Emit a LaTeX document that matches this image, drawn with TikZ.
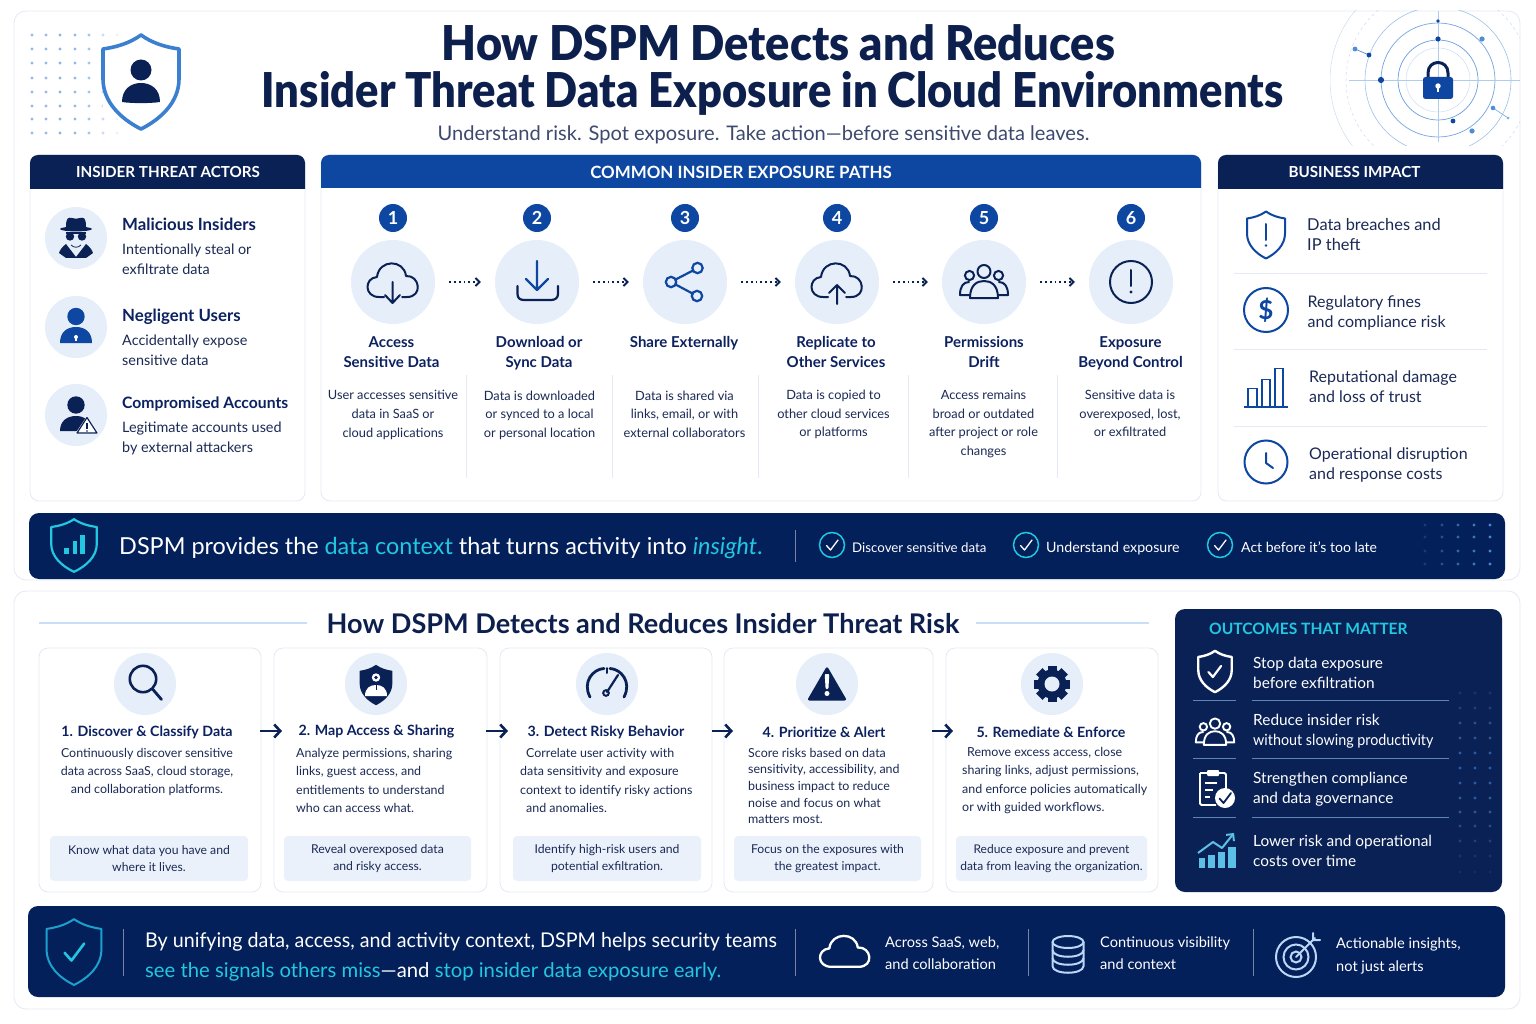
\documentclass[tikz,border=0pt]{standalone}
\usepackage{fontspec}
\setmainfont{Lato}
\newfontfamily\heavyfont{Lato Black}
\usetikzlibrary{calc,arrows.meta}

\definecolor{navy}{HTML}{0A2156}
\definecolor{bannerblue}{HTML}{04205A}
\definecolor{midblue}{HTML}{0D47A1}
\definecolor{softblue}{HTML}{4F8DD8}
\definecolor{logoblue}{HTML}{3A7FD0}
\definecolor{ink}{HTML}{1B2A55}
\definecolor{titleink}{HTML}{0C1F4D}
\definecolor{headink}{HTML}{0C2160}
\definecolor{pale}{HTML}{E6EEF9}
\definecolor{tipfill}{HTML}{EAF1FB}
\definecolor{linegray}{HTML}{E4E9F3}
\definecolor{teal}{HTML}{22C7E0}
\definecolor{iceblue}{HTML}{BCD6F5}
\definecolor{chartblue}{HTML}{5CC0E6}

\tikzset{
  panel/.style={draw=linegray, fill=white, rounded corners=12pt, line width=.8pt, inner sep=0pt},
  card/.style={draw=linegray, fill=white, rounded corners=9pt, line width=.8pt, inner sep=0pt},
  tipbox/.style={fill=tipfill, rounded corners=4pt, inner sep=0pt, text=ink, align=center, font=\fontsize{12.2}{17}\selectfont},
  bluecirc/.style={circle, fill=pale, inner sep=0pt, minimum size=84pt},
  stepcirc/.style={circle, fill=pale, inner sep=0pt, minimum size=62pt},
  badge/.style={circle, fill=midblue, text=white, inner sep=0pt, minimum size=28pt, font=\fontsize{18}{18}\selectfont\bfseries},
  headtext/.style={text=white, inner sep=0pt, font=\fontsize{15.2}{16}\selectfont\bfseries},
  actorhead/.style={anchor=west, inner sep=0pt, text=headink, font=\fontsize{16.8}{18}\selectfont\bfseries},
  actortext/.style={anchor=west, inner sep=0pt, text=ink, align=left, font=\fontsize{14.4}{20}\selectfont},
  pathhead/.style={inner sep=0pt, text=headink, align=center, font=\fontsize{15}{20}\selectfont\bfseries},
  pathtext/.style={inner sep=0pt, text=ink, align=center, font=\fontsize{12.8}{18.6}\selectfont},
  impacttext/.style={anchor=west, inner sep=0pt, text=ink, align=left, font=\fontsize{16}{20}\selectfont},
  stephead/.style={inner sep=0pt, text=headink, font=\fontsize{14.2}{16}\selectfont\bfseries},
  steptext/.style={inner sep=0pt, text=ink, font=\fontsize{12.45}{18.1}\selectfont},
  outtext/.style={anchor=west, inner sep=0pt, text=white, align=left, font=\fontsize{15.4}{20}\selectfont},
  chktext/.style={anchor=west, inner sep=0pt, text=white, font=\fontsize{14.2}{16}\selectfont},
  sidetext/.style={anchor=west, inner sep=0pt, text=white, align=left, font=\fontsize{14.6}{22.5}\selectfont},
  dotflow/.style={navy, line width=1.4pt, dash pattern=on 1.8pt off 3pt, -{Straight Barb[length=4pt,width=8pt,line width=1.9pt]}, shorten >=14pt, shorten <=14pt},
  steparrow/.style={navy, line width=2.6pt, -{Straight Barb[length=6pt,width=13pt,line width=2.6pt]}},
  pics/shieldline/.style={code={
    \draw[line join=round] (0,-47) .. controls (11,-39) and (24,-35) .. (38,-33) -- (38,-3) .. controls (38,20) and (20,37) .. (0,47) .. controls (-20,37) and (-38,20) .. (-38,-3) -- (-38,-33) .. controls (-24,-35) and (-11,-39) .. (0,-47) -- cycle;
  }},
  pics/shieldfill/.style={code={
    \fill (0,-47) .. controls (11,-39) and (24,-35) .. (38,-33) -- (38,-3) .. controls (38,20) and (20,37) .. (0,47) .. controls (-20,37) and (-38,20) .. (-38,-3) -- (-38,-33) .. controls (-24,-35) and (-11,-39) .. (0,-47) -- cycle;
  }},
  pics/cloudopen/.style={code={
    \draw[line cap=round, line join=round] (-9,15) -- (-14,15) .. controls (-29,15) and (-29,-4) .. (-16,-5) .. controls (-14,-23) and (11,-23) .. (13,-6) .. controls (27,-7) and (30,15) .. (14,15) -- (9,15);
  }},
  pics/cloudshut/.style={code={
    \draw[line cap=round, line join=round] (-14,15) .. controls (-29,15) and (-29,-4) .. (-16,-5) .. controls (-14,-23) and (11,-23) .. (13,-6) .. controls (27,-7) and (30,15) .. (14,15) -- cycle;
  }},
  pics/crowd/.style={code={
    \draw[line cap=round, line join=round] (0,-10.5) circle (6.5);
    \draw (-14.5,-6.5) circle (4.6);
    \draw (14.5,-6.5) circle (4.6);
    \draw[line cap=round, line join=round] (-14,16) .. controls (-14,3) and (-7,-1) .. (0,-1) .. controls (7,-1) and (14,3) .. (14,16) -- cycle;
    \draw[line cap=round, line join=round] (-15,0) .. controls (-21,0) and (-24,5) .. (-24,13) -- (-15,13);
    \draw[line cap=round, line join=round] (15,0) .. controls (21,0) and (24,5) .. (24,13) -- (15,13);
  }},
  pics/tickmark/.style={code={
    \draw[line cap=round, line join=round] (-5.5,0.5) -- (-1.5,5) -- (6,-5);
  }},
}

\begin{document}
\begin{tikzpicture}[x=1pt,y=-1pt]
\useasboundingbox (0,0) rectangle (1536,1024);
\fill[white] (0,0) rectangle (1536,1024);

% outer panels
\node[panel, minimum width=1506pt, minimum height=569pt] (toppanel) at (767,295.5) {};
\node[panel, minimum width=1506pt, minimum height=418pt] (lowpanel) at (767,800) {};

% corner dots
\foreach \yy in {35,49,63,78,92,106,119,133} {
  \foreach \xx/\op in {32/.6,46/.6,60/.65,75/.6,89/.5,103/.3,117/.1} {
    \fill[softblue, opacity=\op] (\xx,\yy) circle (1.7);
  }
}
\fill[white] (103,49) rectangle (125,110);
\pic[color=logoblue, line width=3.6pt] at (141,82) {shieldline};
\fill[navy] (141,70) circle (10.5);
\fill[navy] (122,102) .. controls (122,89) and (131,83) .. (141,83) .. controls (151,83) and (160,89) .. (160,102) .. controls (150,103.5) and (132,103.5) .. (122,102) -- cycle;

% radar
\begin{scope}
\clip (1330,11) rectangle (1520,146);
\draw[softblue!30, line width=.5pt] (1438,80) circle (108);
\draw[softblue!30, line width=.5pt, dashed] (1438,80) circle (92);
\draw[softblue!55, line width=.6pt] (1438,80) circle (73);
\draw[softblue!80, line width=.7pt] (1438,80) circle (57);
\draw[softblue!85, line width=.7pt] (1438,80) circle (40);
\draw[softblue!30, line width=.5pt] (1438,80) circle (32);
\draw[softblue!45, line width=.6pt] (1349,80) -- (1520,80);
\draw[softblue!45, line width=.6pt] (1438,11) -- (1438,142);
\draw[softblue, line width=.7pt] (1355,49) -- (1369,55);
\draw[softblue!70, line width=.7pt] (1493,108) -- (1508,118);
\end{scope}
\fill[midblue] (1438,21) circle (1.8);
\fill[midblue] (1438,39) circle (2.6);
\fill[softblue] (1482,39) circle (2.6);
\fill[midblue] (1381,80) circle (3.1);
\fill[midblue] (1453,121) circle (2.4);
\fill[softblue] (1472,131) circle (2.6);
\fill[softblue] (1493,108) circle (2.3);
\fill[softblue!70] (1508,118) circle (1.5);
\fill[midblue] (1369,55) circle (2.4);
\fill[softblue] (1355,49) circle (2.4);
\draw[navy, line width=3pt] (1428,78) -- (1428,73) .. controls (1428,59) and (1448,59) .. (1448,73) -- (1448,78);
\fill[midblue, rounded corners=2.5pt] (1423,77) rectangle (1453,99);
\fill[white] (1438,86) circle (2.7);
\fill[white] (1437,86) rectangle (1439,92.5);

% title
\node[inner sep=0pt, text=titleink, font=\fontsize{48}{48}\selectfont\heavyfont] (titleone) at (778.5,43) {\scalebox{.939}[1]{How DSPM Detects and Reduces}};
\node[inner sep=0pt, text=titleink, font=\fontsize{48}{48}\selectfont\heavyfont] (titletwo) at (772.5,93.5) {\scalebox{.905}[1]{Insider Threat Data Exposure in Cloud Environments}};
\node[inner sep=0pt, text=ink!85, font=\fontsize{20.1}{21}\selectfont] (subtitle) at (763.5,134.5) {Understand risk. Spot exposure. Take action—before sensitive data leaves.};

% three columns
\node[card, minimum width=275pt, minimum height=346pt] (actorcard) at (167.5,328) {};
\node[card, minimum width=880pt, minimum height=346pt] (pathcard) at (761,328) {};
\node[card, minimum width=285pt, minimum height=346pt] (impactcard) at (1360.5,328) {};
\fill[navy] (30,189) [rounded corners=8pt] -- (30,155) -- (305,155) [sharp corners] -- (305,189) -- cycle;
\fill[midblue] (321,188) [rounded corners=8pt] -- (321,155) -- (1201,155) [sharp corners] -- (1201,188) -- cycle;
\fill[navy] (1218,189) [rounded corners=8pt] -- (1218,155) -- (1503,155) [sharp corners] -- (1503,189) -- cycle;
\node[headtext] (actorhead) at (168,172.5) {INSIDER THREAT ACTORS};
\node[headtext, font=\fontsize{16.9}{17}\selectfont\bfseries] (pathhead) at (741,172) {COMMON INSIDER EXPOSURE PATHS};
\node[headtext] (impacthead) at (1354.5,172.5) {BUSINESS IMPACT};

% actors
\node[circle, fill=pale, minimum size=62pt, inner sep=0pt] (spycirc) at (76,238) {};
\node[circle, fill=pale, minimum size=62pt, inner sep=0pt] (usercirc) at (76,327) {};
\node[circle, fill=pale, minimum size=62pt, inner sep=0pt] (hackcirc) at (76,415) {};
\fill[navy] (66,227) .. controls (66,218) and (68,217) .. (72,218) .. controls (75,219) and (77,219) .. (80,218) .. controls (84,217) and (86,218) .. (86,227) -- cycle;
\fill[navy] (76,229) ellipse (16 and 2.4);
\fill[navy] (70,236.5) circle (4.2);
\fill[navy] (82,236.5) circle (4.2);
\fill[navy] (66,232.5) rectangle (86,234.5);
\fill[navy] (66,244) -- (76,257) -- (86,244) .. controls (90,247) and (92,250) .. (93,253) -- (86,258) -- (66,258) -- (59,253) .. controls (60,250) and (62,247) .. (66,244) -- cycle;
\draw[navy, line width=.8pt] (71,245) .. controls (74,248) and (78,248) .. (81,245);
\fill[midblue] (76,316.5) circle (8.7);
\fill[midblue] (60,343) .. controls (60,332) and (67,327) .. (76,327) .. controls (85,327) and (92,332) .. (92,343) -- cycle;
\fill[white] (76,337) circle (2);
\fill[white] (75,337) rectangle (77,341);
\fill[navy] (76,405) circle (8.7);
\fill[navy] (60,431) .. controls (60,421) and (67,416) .. (76,416) .. controls (80,416) and (84,417) .. (87,420) -- (78,431) -- cycle;
\fill[white] (87,416) -- (99,434) -- (75,434) -- cycle;
\draw[navy, line width=1.2pt, line join=round] (87,417.5) -- (97,433) -- (77,433) -- cycle;
\fill[navy] (86.4,423) rectangle (87.6,429);
\fill[navy] (87,431) circle (.8);
\node[actorhead] (spyhead) at (122,224) {Malicious Insiders};
\node[actortext] (spytext) at (122,259) {Intentionally steal or\\exfiltrate data};
\node[actorhead] (userhead) at (122,316.5) {Negligent Users};
\node[actortext] (usertext) at (122,350) {Accidentally expose\\sensitive data};
\node[actorhead, font=\fontsize{15.7}{18}\selectfont\bfseries] (hackhead) at (122,404) {Compromised Accounts};
\node[actortext] (hacktext) at (122,438) {Legitimate accounts used\\by external attackers};

% exposure paths
\node[badge] (badgeone) at (393,218) {1};
\node[badge] (badgetwo) at (537,218) {2};
\node[badge] (badgethree) at (685,218) {3};
\node[badge] (badgefour) at (837,218) {4};
\node[badge] (badgefive) at (984,218) {5};
\node[badge] (badgesix) at (1131,218) {6};
\node[bluecirc] (accesscirc) at (393,282) {};
\node[bluecirc] (synccirc) at (537,282) {};
\node[bluecirc] (sharecirc) at (685,282) {};
\node[bluecirc] (copycirc) at (837,282) {};
\node[bluecirc] (driftcirc) at (984,282) {};
\node[bluecirc] (lostcirc) at (1131,282) {};
\draw[dotflow] (accesscirc) -- (synccirc);
\draw[dotflow] (synccirc) -- (sharecirc);
\draw[dotflow] (sharecirc) -- (copycirc);
\draw[dotflow] (copycirc) -- (driftcirc);
\draw[dotflow] (driftcirc) -- (lostcirc);
\pic[color=navy, line width=2pt] at (393,282) {cloudopen};
\draw[navy, line width=2pt, line cap=round, line join=round] (392.5,282) -- (392.5,303) (385,295) -- (392.5,303) -- (400,295);
\draw[midblue, line width=2.2pt, line cap=round, line join=round] (537,261) -- (537,289) (526,279) -- (537,290) -- (548,279);
\draw[navy, line width=2.2pt, line cap=round] (517.5,286) -- (517.5,294) .. controls (517.5,298) and (520,300) .. (524,300) -- (551,300) .. controls (555,300) and (558,298) .. (558,294) -- (558,286);
\draw[midblue, line width=2.2pt] (697.5,268) circle (5.2) (671,282) circle (5.2) (697,296) circle (5.2) (675.6,279.5) -- (693,270.5) (675.6,284.5) -- (692.5,293.5);
\pic[color=navy, line width=2pt] at (837,282) {cloudopen};
\draw[navy, line width=2pt, line cap=round, line join=round] (837,304) -- (837,285) (829,293) -- (837,285) -- (845,293);
\pic[color=navy, line width=2pt] at (984,282) {crowd};
\draw[navy, line width=2pt] (1131,282) circle (21);
\draw[navy, line width=2pt, line cap=round] (1131,270) -- (1131,286);
\fill[navy] (1131,292) circle (1.6);
\node[pathhead] (accesshead) at (391.5,352) {Access\\Sensitive Data};
\node[pathhead] (synchead) at (539,353) {Download or\\Sync Data};
\node[pathhead] (sharehead) at (684,343) {Share Externally};
\node[pathhead] (copyhead) at (836,352) {Replicate to\\Other Services};
\node[pathhead] (drifthead) at (984,352) {Permissions\\Drift};
\node[pathhead] (losthead) at (1130.5,353) {Exposure\\Beyond Control};
\node[pathtext] (accesstext) at (393,415) {User accesses sensitive\\data in SaaS or\\cloud applications};
\node[pathtext] (synctext) at (539.5,415) {Data is downloaded\\or synced to a local\\or personal location};
\node[pathtext] (sharetext) at (684.5,414) {Data is shared via\\links, email, or with\\external collaborators};
\node[pathtext] (copytext) at (833.5,414.5) {Data is copied to\\other cloud services\\or platforms};
\node[pathtext] (drifttext) at (983.5,424) {Access remains\\broad or outdated\\after project or role\\changes};
\node[pathtext] (losttext) at (1130,413.5) {Sensitive data is\\overexposed, lost,\\or exfiltrated};
\foreach \xx in {466,612,758,908,1057} {
  \draw[linegray, line width=.8pt] (\xx,375) -- (\xx,478);
}

% business impact
\pic[color=midblue, line width=2pt, scale=.5] at (1266,235) {shieldline};
\draw[midblue, line width=2pt, line cap=round] (1266,224) -- (1266,240);
\fill[midblue] (1266,245.5) circle (1.4);
\node[impacttext, font=\fontsize{16.4}{20}\selectfont] (breachtext) at (1307,235) {Data breaches and\\IP theft};
\draw[midblue, line width=2pt] (1266,310) circle (22);
\node[inner sep=0pt, text=midblue, font=\fontsize{26}{26}\selectfont] (dollar) at (1266,310) {\textbf{\$}};
\node[impacttext] (finetext) at (1307.5,313) {Regulatory fines\\and compliance risk};
\draw[midblue, line width=1.8pt] (1248,407) -- (1248,388.5) -- (1257,388.5) -- (1257,407);
\draw[midblue, line width=1.8pt] (1262,407) -- (1262,379.5) -- (1270,379.5) -- (1270,407);
\draw[midblue, line width=1.8pt] (1275,407) -- (1275,368.5) -- (1283,368.5) -- (1283,407);
\draw[midblue, line width=1.8pt] (1244,407) -- (1288,407);
\node[impacttext] (trusttext) at (1309,387) {Reputational damage\\and loss of trust};
\draw[midblue, line width=2pt] (1266,462) circle (21.5);
\draw[midblue, line width=2pt, line cap=round, line join=round] (1266,453) -- (1266,463) -- (1273,468);
\node[impacttext] (costtext) at (1309,465) {Operational disruption\\and response costs};
\draw[linegray, line width=.9pt] (1234,273) -- (1487,273);
\draw[linegray, line width=.9pt] (1234,349) -- (1487,349);
\draw[linegray, line width=.9pt] (1234,426) -- (1487,426);

% first banner
\node[fill=bannerblue, rounded corners=10pt, inner sep=0pt, minimum width=1476pt, minimum height=66pt] (contextbar) at (767,546) {};
\pic[color=teal, line width=2.2pt, xscale=.6, yscale=.56] at (74,545.5) {shieldline};
\fill[teal] (64,548) rectangle (69,554);
\fill[teal] (72.5,541) rectangle (76.5,554);
\fill[teal] (80,535) rectangle (85,554);
\node[anchor=west, inner sep=0pt, text=white, font=\fontsize{23.4}{24}\selectfont] (contexttext) at (119,548.5) {DSPM provides the \textcolor{teal}{data context} that turns activity into \textcolor{teal}{\textit{insight}}\textcolor{teal}{.}};
\draw[white!45!bannerblue, line width=.8pt] (795,530) -- (795,562);
\foreach \xx/\op in {1425/.25,1442/.45,1458/.65,1474/.8,1490/.95} {
  \foreach \yy in {525,537,551,564} {
    \fill[softblue, opacity=\op] (\xx,\yy) circle (1.7);
  }
}
\draw[teal, line width=1.5pt] (832,545) circle (12.5);
\pic[color=white, line width=1.3pt] at (832,545) {tickmark};
\node[chktext, font=\fontsize{13.3}{16}\selectfont] (findtext) at (852,547.5) {Discover sensitive data};
\draw[teal, line width=1.5pt] (1026,545) circle (12.5);
\pic[color=white, line width=1.3pt] at (1026,545) {tickmark};
\node[chktext] (knowtext) at (1046,548) {Understand exposure};
\draw[teal, line width=1.5pt] (1220,545) circle (12.5);
\pic[color=white, line width=1.3pt] at (1220,545) {tickmark};
\node[chktext, font=\fontsize{14}{16}\selectfont] (acttext) at (1241,547) {Act before it's too late};

% second part
\node[inner sep=0pt, text=titleink, font=\fontsize{27.1}{28}\selectfont\bfseries] (lowtitle) at (643,623.5) {How DSPM Detects and Reduces Insider Threat Risk};
\draw[iceblue!80, line width=1.2pt] (39,623) -- (307,623);
\draw[iceblue!80, line width=1.2pt] (976,623) -- (1149,623);

\node[card, minimum width=222pt, minimum height=244pt] (cardone) at (150,770) {};
\node[card, minimum width=213pt, minimum height=244pt] (cardtwo) at (380.5,770) {};
\node[card, minimum width=212pt, minimum height=244pt] (cardthree) at (606,770) {};
\node[card, minimum width=209pt, minimum height=244pt] (cardfour) at (828.5,770) {};
\node[card, minimum width=212pt, minimum height=244pt] (cardfive) at (1052,770) {};

\node[stepcirc] (findcirc) at (145,684) {};
\node[stepcirc] (mapcirc) at (376,684) {};
\node[stepcirc] (gaugecirc) at (607,684) {};
\node[stepcirc] (alertcirc) at (827,684) {};
\node[stepcirc] (gearcirc) at (1052,684) {};

% step icons
\draw[navy, line width=2.6pt] (143,679) circle (13.2);
\draw[navy, line width=2.8pt, line cap=round] (152.5,689) -- (161.5,699.5);
\pic[color=navy, scale=.43] at (376,685) {shieldfill};
\fill[white] (376,677.5) circle (4.2);
\fill[navy] (376,677.5) circle (1.8);
\fill[white] (365,696) .. controls (365,688) and (370,685) .. (376,685) .. controls (382,685) and (387,688) .. (387,696) -- cycle;
\draw[navy, line width=1pt] (376,684) -- (376,690);
\draw[navy, line width=2.8pt, line cap=round] (590,697) .. controls (582,682) and (593,669) .. (604,668.5);
\draw[navy, line width=2.8pt, line cap=round] (610,668.5) .. controls (621,669) and (632,682) .. (624,697);
\draw[navy, line width=2pt, line cap=round] (607,668) -- (607,673);
\draw[navy, line width=2.2pt, line cap=round] (607,692) -- (618,675);
\draw[navy, line width=2pt] (606,693) circle (2.8);
\fill[navy, rounded corners=2.5pt] (827,666) -- (847,700.5) -- (807,700.5) -- cycle;
\fill[white, rounded corners=1pt] (824.7,674) -- (829.3,674) -- (828.4,689) -- (825.6,689) -- cycle;
\fill[white] (827,693.5) circle (2.5);
\foreach \aa in {0,45,...,315} {
  \fill[navy, rotate around={\aa:(1052,684)}] (1047.5,666) rectangle (1056.5,672);
}
\fill[navy] (1052,684) circle (14.5);
\fill[pale] (1052,684) circle (7.5);

\node[stephead] (findhead) at (147,732) {1. Discover \& Classify Data};
\node[stephead] (maphead) at (376.5,731.5) {2. Map Access \& Sharing};
\node[stephead] (gaugehead) at (606,732) {3. Detect Risky Behavior};
\node[stephead] (alerthead) at (824,732) {4. Prioritize \& Alert};
\node[stephead] (gearhead) at (1051,732) {5. Remediate \& Enforce};

\coordinate (arrowaa) at (260,731);
\coordinate (arrowab) at (282,731);
\coordinate (arrowba) at (486,731);
\coordinate (arrowbb) at (508,731);
\coordinate (arrowca) at (712,731);
\coordinate (arrowcb) at (733,731);
\coordinate (arrowda) at (932,731);
\coordinate (arrowdb) at (953,731);
\draw[steparrow] (arrowaa) -- (arrowab);
\draw[steparrow] (arrowba) -- (arrowbb);
\draw[steparrow] (arrowca) -- (arrowcb);
\draw[steparrow] (arrowda) -- (arrowdb);

\node[steptext, align=center] (findtext) at (147,772) {Continuously discover sensitive\\data across SaaS, cloud storage,\\and collaboration platforms.};
\node[steptext, align=left, anchor=west] (maptext) at (296,780.5) {Analyze permissions, sharing\\links, guest access, and\\entitlements to understand\\who can access what.};
\node[steptext, align=left, anchor=west] (gaugetext) at (520,780.5) {\hspace{6pt}Correlate user activity with\\data sensitivity and exposure\\context to identify risky actions\\\hspace{6pt}and anomalies.};
\node[steptext, align=left, anchor=west, font=\fontsize{12.45}{16.6}\selectfont] (alerttext) at (748,786) {Score risks based on data\\sensitivity, accessibility, and\\business impact to reduce\\noise and focus on what\\matters most.};
\node[steptext, align=left, anchor=west] (geartext) at (962,780.5) {\hspace{5pt}Remove excess access, close\\sharing links, adjust permissions,\\and enforce policies automatically\\or with guided workflows.};

\node[tipbox, minimum width=198pt, minimum height=45pt] (findtip) at (149,858.5) {Know what data you have and\\where it lives.};
\node[tipbox, minimum width=187pt, minimum height=45pt] (maptip) at (377.5,858.5) {Reveal overexposed data\\and risky access.};
\node[tipbox, minimum width=188pt, minimum height=45pt] (gaugetip) at (607,858.5) {Identify high-risk users and\\potential exfiltration.};
\node[tipbox, minimum width=187pt, minimum height=45pt] (alerttip) at (827.5,858.5) {Focus on the exposures with\\the greatest impact.};
\node[tipbox, minimum width=191pt, minimum height=45pt, font=\fontsize{12}{17}\selectfont] (geartip) at (1051.5,858.5) {Reduce exposure and prevent\\data from leaving the organization.};

% outcomes
\node[fill=navy, rounded corners=10pt, inner sep=0pt, minimum width=327pt, minimum height=283pt] (outcomepanel) at (1338.5,750.5) {};
\foreach \yy/\op in {693/.2,708/.3,723/.45,738/.5,753/.55,768/.55,783/.55,798/.55,812/.5,826/.4,841/.3,856/.2,872/.12} {
  \foreach \xx in {1460,1475,1490} {
    \fill[softblue, opacity=\op] (\xx,\yy) circle (1.7);
  }
}
\node[anchor=west, inner sep=0pt, text=teal, font=\fontsize{15.6}{17}\selectfont\bfseries] (outcometitle) at (1209,628.5) {OUTCOMES THAT MATTER};
\pic[color=white, line width=2.4pt, scale=.44] at (1215,671.5) {shieldline};
\pic[color=white, line width=2.2pt, scale=1.1] at (1214.5,671.5) {tickmark};
\node[outtext] (stoptext) at (1253,672.5) {Stop data exposure\\before exfiltration};
\pic[color=white, line width=1.9pt, scale=.8] at (1215,732) {crowd};
\node[outtext] (slowtext) at (1253,731.5) {Reduce insider risk\\\scalebox{.93}[1]{without slowing productivity}};
\draw[white, line width=1.8pt, rounded corners=1.5pt] (1200,773) -- (1200,805) -- (1216,805) (1226,792) -- (1226,773) -- (1200,773);
\fill[white, rounded corners=1pt] (1207,770) rectangle (1219,776);
\draw[white, line width=1.6pt] (1205,783) -- (1217,783) (1205,790) -- (1213,790) (1205,797) -- (1210,797);
\fill[white] (1225,798) circle (10);
\pic[color=navy, line width=1.8pt] at (1225,798) {tickmark};
\node[outtext] (rulestext) at (1253,789.5) {Strengthen compliance\\and data governance};
\draw[chartblue, line width=2pt, line join=round, -{Straight Barb[length=5pt,width=10pt,line width=2pt]}] (1198,853) -- (1213,842) -- (1222,848) -- (1234,833);
\fill[chartblue] (1199,858) rectangle (1205,868);
\fill[chartblue] (1208,855) rectangle (1215,868);
\fill[chartblue] (1218,852) rectangle (1225,868);
\fill[chartblue] (1228,847) rectangle (1236,868);
\node[outtext] (lowertext) at (1253,850.5) {Lower risk and operational\\costs over time};
\foreach \yy in {700,758,817} {
  \draw[softblue!70!white, opacity=.7, line width=.7pt] (1193,\yy) -- (1236,\yy);
  \draw[softblue!70!white, opacity=.7, line width=.7pt] (1252,\yy) -- (1449,\yy);
}

% second banner
\node[fill=bannerblue, rounded corners=10pt, inner sep=0pt, minimum width=1477pt, minimum height=91pt] (closingbar) at (766.5,951.5) {};
\pic[color=teal!70!midblue, line width=2pt, xscale=.72, yscale=.7] at (74,952) {shieldline};
\pic[color=teal, line width=2.6pt, scale=1.7] at (74,952) {tickmark};
\draw[white!45!bannerblue, line width=.8pt] (123,929) -- (123,976);
\node[anchor=west, inner sep=0pt, text=white, align=left, font=\fontsize{20.3}{30}\selectfont] (closingtext) at (145,956.5) {\scalebox{.97}[1]{By unifying data, access, and activity context, DSPM helps security teams}\\\textcolor{teal}{see the signals others miss}—and \textcolor{teal}{stop insider data exposure early.}};
\draw[white!45!bannerblue, line width=.8pt] (795,929) -- (795,976);
\pic[color=white, line width=2.3pt, xscale=.98, yscale=.92] at (845,953) {cloudshut};
\node[sidetext] (saastext) at (885,953) {Across SaaS, web,\\and collaboration};
\draw[white!45!bannerblue, line width=.8pt] (1028,929) -- (1028,976);
\draw[iceblue, line width=2pt] (1068,942) ellipse (15.5 and 6);
\draw[iceblue, line width=2pt] (1052.5,942) -- (1052.5,966) .. controls (1052.5,975) and (1083.5,975) .. (1083.5,966) -- (1083.5,942);
\draw[iceblue, line width=2pt] (1052.5,950) .. controls (1052.5,959) and (1083.5,959) .. (1083.5,950);
\draw[iceblue, line width=2pt] (1052.5,958) .. controls (1052.5,967) and (1083.5,967) .. (1083.5,958);
\node[sidetext] (viewtext) at (1100,953) {Continuous visibility\\and context};
\draw[white!45!bannerblue, line width=.8pt] (1253,929) -- (1253,976);
\draw[iceblue, line width=2pt] (1296,957) circle (20);
\draw[iceblue, line width=2pt] (1296,957) circle (12.5);
\draw[iceblue, line width=2pt] (1296,957) circle (5.5);
\draw[iceblue, line width=2pt, line cap=round] (1296,957) -- (1315,938) (1313,933) -- (1313,940) -- (1320,940);
\node[sidetext] (aimtext) at (1336,956) {Actionable insights,\\not just alerts};
\end{tikzpicture}
\end{document}
